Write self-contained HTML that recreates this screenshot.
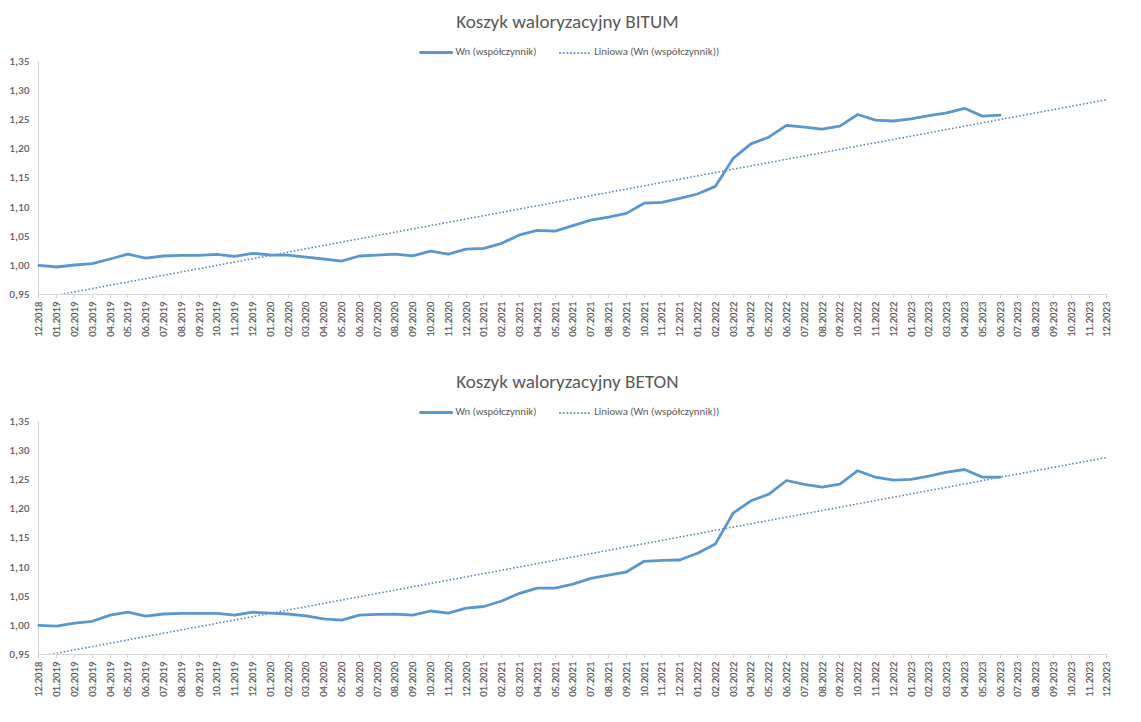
<!DOCTYPE html>
<html><head><meta charset="utf-8"><title>Koszyk waloryzacyjny</title>
<style>html,body{margin:0;padding:0;background:#fff;width:1141px;height:722px;overflow:hidden}svg{display:block}</style>
</head><body>
<svg width="1141" height="722" viewBox="0 0 1141 722" font-family="'Carlito', 'Liberation Sans', sans-serif">
<style>text{fill:#595959;font-size-adjust:0.4775}.t{font-size:19px}.lg{font-size:10.67px}.ya{font-size:10.67px;stroke:#595959;stroke-width:0.2px}.xa{font-size:10.67px;stroke:#595959;stroke-width:0.2px}</style>
<rect width="1141" height="722" fill="#fff"/>
<text x="567.4" y="27.7" class="t" text-anchor="middle" textLength="222.5" lengthAdjust="spacingAndGlyphs">Koszyk waloryzacyjny BITUM</text>
<line x1="420.5" y1="52.6" x2="451.7" y2="52.6" stroke="#5a97cf" stroke-width="3" stroke-linecap="round"/>
<text x="455.4" y="54.7" class="lg" textLength="81" lengthAdjust="spacingAndGlyphs" fill="#595959">Wn (współczynnik)</text>
<line x1="559.1" y1="53.0" x2="590" y2="53.0" stroke="#7fa3cf" stroke-width="2" stroke-dasharray="2 1.6"/>
<text x="594.2" y="54.7" class="lg" textLength="125" lengthAdjust="spacingAndGlyphs" fill="#595959">Liniowa (Wn (współczynnik))</text>
<text x="29.4" y="64.80" class="ya" text-anchor="end" textLength="20">1,35</text>
<text x="29.4" y="93.95" class="ya" text-anchor="end" textLength="20">1,30</text>
<text x="29.4" y="123.10" class="ya" text-anchor="end" textLength="20">1,25</text>
<text x="29.4" y="152.25" class="ya" text-anchor="end" textLength="20">1,20</text>
<text x="29.4" y="181.40" class="ya" text-anchor="end" textLength="20">1,15</text>
<text x="29.4" y="210.55" class="ya" text-anchor="end" textLength="20">1,10</text>
<text x="29.4" y="239.70" class="ya" text-anchor="end" textLength="20">1,05</text>
<text x="29.4" y="268.85" class="ya" text-anchor="end" textLength="20">1,00</text>
<text x="29.4" y="298.00" class="ya" text-anchor="end" textLength="20">0,95</text>
<line x1="38.5" y1="61.2" x2="38.5" y2="298.0" stroke="#d6d6d6" stroke-width="1"/>
<line x1="38" y1="294.5" x2="1107" y2="294.5" stroke="#d6d6d6" stroke-width="1"/>
<line x1="38.5" y1="294.5" x2="38.5" y2="298.0" stroke="#d6d6d6" stroke-width="1"/>
<text transform="translate(42.10,301.7) rotate(-90)" class="xa" text-anchor="end" textLength="35.1">12.2018</text>
<line x1="56.5" y1="294.5" x2="56.5" y2="298.0" stroke="#d6d6d6" stroke-width="1"/>
<text transform="translate(60.10,301.7) rotate(-90)" class="xa" text-anchor="end" textLength="35.1">01.2019</text>
<line x1="74.5" y1="294.5" x2="74.5" y2="298.0" stroke="#d6d6d6" stroke-width="1"/>
<text transform="translate(78.10,301.7) rotate(-90)" class="xa" text-anchor="end" textLength="35.1">02.2019</text>
<line x1="92.5" y1="294.5" x2="92.5" y2="298.0" stroke="#d6d6d6" stroke-width="1"/>
<text transform="translate(96.10,301.7) rotate(-90)" class="xa" text-anchor="end" textLength="35.1">03.2019</text>
<line x1="110.5" y1="294.5" x2="110.5" y2="298.0" stroke="#d6d6d6" stroke-width="1"/>
<text transform="translate(114.10,301.7) rotate(-90)" class="xa" text-anchor="end" textLength="35.1">04.2019</text>
<line x1="127.5" y1="294.5" x2="127.5" y2="298.0" stroke="#d6d6d6" stroke-width="1"/>
<text transform="translate(131.10,301.7) rotate(-90)" class="xa" text-anchor="end" textLength="35.1">05.2019</text>
<line x1="145.5" y1="294.5" x2="145.5" y2="298.0" stroke="#d6d6d6" stroke-width="1"/>
<text transform="translate(149.10,301.7) rotate(-90)" class="xa" text-anchor="end" textLength="35.1">06.2019</text>
<line x1="163.5" y1="294.5" x2="163.5" y2="298.0" stroke="#d6d6d6" stroke-width="1"/>
<text transform="translate(167.10,301.7) rotate(-90)" class="xa" text-anchor="end" textLength="35.1">07.2019</text>
<line x1="181.5" y1="294.5" x2="181.5" y2="298.0" stroke="#d6d6d6" stroke-width="1"/>
<text transform="translate(185.10,301.7) rotate(-90)" class="xa" text-anchor="end" textLength="35.1">08.2019</text>
<line x1="199.5" y1="294.5" x2="199.5" y2="298.0" stroke="#d6d6d6" stroke-width="1"/>
<text transform="translate(203.10,301.7) rotate(-90)" class="xa" text-anchor="end" textLength="35.1">09.2019</text>
<line x1="216.5" y1="294.5" x2="216.5" y2="298.0" stroke="#d6d6d6" stroke-width="1"/>
<text transform="translate(220.10,301.7) rotate(-90)" class="xa" text-anchor="end" textLength="35.1">10.2019</text>
<line x1="234.5" y1="294.5" x2="234.5" y2="298.0" stroke="#d6d6d6" stroke-width="1"/>
<text transform="translate(238.10,301.7) rotate(-90)" class="xa" text-anchor="end" textLength="35.1">11.2019</text>
<line x1="252.5" y1="294.5" x2="252.5" y2="298.0" stroke="#d6d6d6" stroke-width="1"/>
<text transform="translate(256.10,301.7) rotate(-90)" class="xa" text-anchor="end" textLength="35.1">12.2019</text>
<line x1="270.5" y1="294.5" x2="270.5" y2="298.0" stroke="#d6d6d6" stroke-width="1"/>
<text transform="translate(274.10,301.7) rotate(-90)" class="xa" text-anchor="end" textLength="35.1">01.2020</text>
<line x1="288.5" y1="294.5" x2="288.5" y2="298.0" stroke="#d6d6d6" stroke-width="1"/>
<text transform="translate(292.10,301.7) rotate(-90)" class="xa" text-anchor="end" textLength="35.1">02.2020</text>
<line x1="305.5" y1="294.5" x2="305.5" y2="298.0" stroke="#d6d6d6" stroke-width="1"/>
<text transform="translate(309.10,301.7) rotate(-90)" class="xa" text-anchor="end" textLength="35.1">03.2020</text>
<line x1="323.5" y1="294.5" x2="323.5" y2="298.0" stroke="#d6d6d6" stroke-width="1"/>
<text transform="translate(327.10,301.7) rotate(-90)" class="xa" text-anchor="end" textLength="35.1">04.2020</text>
<line x1="341.5" y1="294.5" x2="341.5" y2="298.0" stroke="#d6d6d6" stroke-width="1"/>
<text transform="translate(345.10,301.7) rotate(-90)" class="xa" text-anchor="end" textLength="35.1">05.2020</text>
<line x1="359.5" y1="294.5" x2="359.5" y2="298.0" stroke="#d6d6d6" stroke-width="1"/>
<text transform="translate(363.10,301.7) rotate(-90)" class="xa" text-anchor="end" textLength="35.1">06.2020</text>
<line x1="377.5" y1="294.5" x2="377.5" y2="298.0" stroke="#d6d6d6" stroke-width="1"/>
<text transform="translate(381.10,301.7) rotate(-90)" class="xa" text-anchor="end" textLength="35.1">07.2020</text>
<line x1="394.5" y1="294.5" x2="394.5" y2="298.0" stroke="#d6d6d6" stroke-width="1"/>
<text transform="translate(398.10,301.7) rotate(-90)" class="xa" text-anchor="end" textLength="35.1">08.2020</text>
<line x1="412.5" y1="294.5" x2="412.5" y2="298.0" stroke="#d6d6d6" stroke-width="1"/>
<text transform="translate(416.10,301.7) rotate(-90)" class="xa" text-anchor="end" textLength="35.1">09.2020</text>
<line x1="430.5" y1="294.5" x2="430.5" y2="298.0" stroke="#d6d6d6" stroke-width="1"/>
<text transform="translate(434.10,301.7) rotate(-90)" class="xa" text-anchor="end" textLength="35.1">10.2020</text>
<line x1="448.5" y1="294.5" x2="448.5" y2="298.0" stroke="#d6d6d6" stroke-width="1"/>
<text transform="translate(452.10,301.7) rotate(-90)" class="xa" text-anchor="end" textLength="35.1">11.2020</text>
<line x1="466.5" y1="294.5" x2="466.5" y2="298.0" stroke="#d6d6d6" stroke-width="1"/>
<text transform="translate(470.10,301.7) rotate(-90)" class="xa" text-anchor="end" textLength="35.1">12.2020</text>
<line x1="483.5" y1="294.5" x2="483.5" y2="298.0" stroke="#d6d6d6" stroke-width="1"/>
<text transform="translate(487.10,301.7) rotate(-90)" class="xa" text-anchor="end" textLength="35.1">01.2021</text>
<line x1="501.5" y1="294.5" x2="501.5" y2="298.0" stroke="#d6d6d6" stroke-width="1"/>
<text transform="translate(505.10,301.7) rotate(-90)" class="xa" text-anchor="end" textLength="35.1">02.2021</text>
<line x1="519.5" y1="294.5" x2="519.5" y2="298.0" stroke="#d6d6d6" stroke-width="1"/>
<text transform="translate(523.10,301.7) rotate(-90)" class="xa" text-anchor="end" textLength="35.1">03.2021</text>
<line x1="537.5" y1="294.5" x2="537.5" y2="298.0" stroke="#d6d6d6" stroke-width="1"/>
<text transform="translate(541.10,301.7) rotate(-90)" class="xa" text-anchor="end" textLength="35.1">04.2021</text>
<line x1="555.5" y1="294.5" x2="555.5" y2="298.0" stroke="#d6d6d6" stroke-width="1"/>
<text transform="translate(559.10,301.7) rotate(-90)" class="xa" text-anchor="end" textLength="35.1">05.2021</text>
<line x1="572.5" y1="294.5" x2="572.5" y2="298.0" stroke="#d6d6d6" stroke-width="1"/>
<text transform="translate(576.10,301.7) rotate(-90)" class="xa" text-anchor="end" textLength="35.1">06.2021</text>
<line x1="590.5" y1="294.5" x2="590.5" y2="298.0" stroke="#d6d6d6" stroke-width="1"/>
<text transform="translate(594.10,301.7) rotate(-90)" class="xa" text-anchor="end" textLength="35.1">07.2021</text>
<line x1="608.5" y1="294.5" x2="608.5" y2="298.0" stroke="#d6d6d6" stroke-width="1"/>
<text transform="translate(612.10,301.7) rotate(-90)" class="xa" text-anchor="end" textLength="35.1">08.2021</text>
<line x1="626.5" y1="294.5" x2="626.5" y2="298.0" stroke="#d6d6d6" stroke-width="1"/>
<text transform="translate(630.10,301.7) rotate(-90)" class="xa" text-anchor="end" textLength="35.1">09.2021</text>
<line x1="644.5" y1="294.5" x2="644.5" y2="298.0" stroke="#d6d6d6" stroke-width="1"/>
<text transform="translate(648.10,301.7) rotate(-90)" class="xa" text-anchor="end" textLength="35.1">10.2021</text>
<line x1="661.5" y1="294.5" x2="661.5" y2="298.0" stroke="#d6d6d6" stroke-width="1"/>
<text transform="translate(665.10,301.7) rotate(-90)" class="xa" text-anchor="end" textLength="35.1">11.2021</text>
<line x1="679.5" y1="294.5" x2="679.5" y2="298.0" stroke="#d6d6d6" stroke-width="1"/>
<text transform="translate(683.10,301.7) rotate(-90)" class="xa" text-anchor="end" textLength="35.1">12.2021</text>
<line x1="697.5" y1="294.5" x2="697.5" y2="298.0" stroke="#d6d6d6" stroke-width="1"/>
<text transform="translate(701.10,301.7) rotate(-90)" class="xa" text-anchor="end" textLength="35.1">01.2022</text>
<line x1="715.5" y1="294.5" x2="715.5" y2="298.0" stroke="#d6d6d6" stroke-width="1"/>
<text transform="translate(719.10,301.7) rotate(-90)" class="xa" text-anchor="end" textLength="35.1">02.2022</text>
<line x1="733.5" y1="294.5" x2="733.5" y2="298.0" stroke="#d6d6d6" stroke-width="1"/>
<text transform="translate(737.10,301.7) rotate(-90)" class="xa" text-anchor="end" textLength="35.1">03.2022</text>
<line x1="750.5" y1="294.5" x2="750.5" y2="298.0" stroke="#d6d6d6" stroke-width="1"/>
<text transform="translate(754.10,301.7) rotate(-90)" class="xa" text-anchor="end" textLength="35.1">04.2022</text>
<line x1="768.5" y1="294.5" x2="768.5" y2="298.0" stroke="#d6d6d6" stroke-width="1"/>
<text transform="translate(772.10,301.7) rotate(-90)" class="xa" text-anchor="end" textLength="35.1">05.2022</text>
<line x1="786.5" y1="294.5" x2="786.5" y2="298.0" stroke="#d6d6d6" stroke-width="1"/>
<text transform="translate(790.10,301.7) rotate(-90)" class="xa" text-anchor="end" textLength="35.1">06.2022</text>
<line x1="804.5" y1="294.5" x2="804.5" y2="298.0" stroke="#d6d6d6" stroke-width="1"/>
<text transform="translate(808.10,301.7) rotate(-90)" class="xa" text-anchor="end" textLength="35.1">07.2022</text>
<line x1="822.5" y1="294.5" x2="822.5" y2="298.0" stroke="#d6d6d6" stroke-width="1"/>
<text transform="translate(826.10,301.7) rotate(-90)" class="xa" text-anchor="end" textLength="35.1">08.2022</text>
<line x1="839.5" y1="294.5" x2="839.5" y2="298.0" stroke="#d6d6d6" stroke-width="1"/>
<text transform="translate(843.10,301.7) rotate(-90)" class="xa" text-anchor="end" textLength="35.1">09.2022</text>
<line x1="857.5" y1="294.5" x2="857.5" y2="298.0" stroke="#d6d6d6" stroke-width="1"/>
<text transform="translate(861.10,301.7) rotate(-90)" class="xa" text-anchor="end" textLength="35.1">10.2022</text>
<line x1="875.5" y1="294.5" x2="875.5" y2="298.0" stroke="#d6d6d6" stroke-width="1"/>
<text transform="translate(879.10,301.7) rotate(-90)" class="xa" text-anchor="end" textLength="35.1">11.2022</text>
<line x1="893.5" y1="294.5" x2="893.5" y2="298.0" stroke="#d6d6d6" stroke-width="1"/>
<text transform="translate(897.10,301.7) rotate(-90)" class="xa" text-anchor="end" textLength="35.1">12.2022</text>
<line x1="911.5" y1="294.5" x2="911.5" y2="298.0" stroke="#d6d6d6" stroke-width="1"/>
<text transform="translate(915.10,301.7) rotate(-90)" class="xa" text-anchor="end" textLength="35.1">01.2023</text>
<line x1="928.5" y1="294.5" x2="928.5" y2="298.0" stroke="#d6d6d6" stroke-width="1"/>
<text transform="translate(932.10,301.7) rotate(-90)" class="xa" text-anchor="end" textLength="35.1">02.2023</text>
<line x1="946.5" y1="294.5" x2="946.5" y2="298.0" stroke="#d6d6d6" stroke-width="1"/>
<text transform="translate(950.10,301.7) rotate(-90)" class="xa" text-anchor="end" textLength="35.1">03.2023</text>
<line x1="964.5" y1="294.5" x2="964.5" y2="298.0" stroke="#d6d6d6" stroke-width="1"/>
<text transform="translate(968.10,301.7) rotate(-90)" class="xa" text-anchor="end" textLength="35.1">04.2023</text>
<line x1="982.5" y1="294.5" x2="982.5" y2="298.0" stroke="#d6d6d6" stroke-width="1"/>
<text transform="translate(986.10,301.7) rotate(-90)" class="xa" text-anchor="end" textLength="35.1">05.2023</text>
<line x1="1000.5" y1="294.5" x2="1000.5" y2="298.0" stroke="#d6d6d6" stroke-width="1"/>
<text transform="translate(1004.10,301.7) rotate(-90)" class="xa" text-anchor="end" textLength="35.1">06.2023</text>
<line x1="1017.5" y1="294.5" x2="1017.5" y2="298.0" stroke="#d6d6d6" stroke-width="1"/>
<text transform="translate(1021.10,301.7) rotate(-90)" class="xa" text-anchor="end" textLength="35.1">07.2023</text>
<line x1="1035.5" y1="294.5" x2="1035.5" y2="298.0" stroke="#d6d6d6" stroke-width="1"/>
<text transform="translate(1039.10,301.7) rotate(-90)" class="xa" text-anchor="end" textLength="35.1">08.2023</text>
<line x1="1053.5" y1="294.5" x2="1053.5" y2="298.0" stroke="#d6d6d6" stroke-width="1"/>
<text transform="translate(1057.10,301.7) rotate(-90)" class="xa" text-anchor="end" textLength="35.1">09.2023</text>
<line x1="1071.5" y1="294.5" x2="1071.5" y2="298.0" stroke="#d6d6d6" stroke-width="1"/>
<text transform="translate(1075.10,301.7) rotate(-90)" class="xa" text-anchor="end" textLength="35.1">10.2023</text>
<line x1="1089.5" y1="294.5" x2="1089.5" y2="298.0" stroke="#d6d6d6" stroke-width="1"/>
<text transform="translate(1093.10,301.7) rotate(-90)" class="xa" text-anchor="end" textLength="35.1">11.2023</text>
<line x1="1106.5" y1="294.5" x2="1106.5" y2="298.0" stroke="#d6d6d6" stroke-width="1"/>
<text transform="translate(1110.10,301.7) rotate(-90)" class="xa" text-anchor="end" textLength="35.1">12.2023</text>
<clipPath id="c0"><rect x="39" y="60.2" width="1070" height="233.60000000000002"/></clipPath>
<line clip-path="url(#c0)" x1="38.9" y1="298.50" x2="1106.90" y2="99.64" stroke="#5a86ba" stroke-width="1.55" stroke-dasharray="1.6 2.0"/>
<polyline points="38.90,265.4 56.70,267.0 74.50,265.0 92.30,263.6 110.10,259.0 127.90,254.2 145.70,258.2 163.50,256.0 181.30,255.3 199.10,255.3 216.90,254.4 234.70,256.3 252.50,253.3 270.30,255.0 288.10,255.1 305.90,257.2 323.70,259.0 341.50,261.1 359.30,256.0 377.10,255.1 394.90,254.2 412.70,255.9 430.50,251.1 448.30,254.1 466.10,249.2 483.90,248.3 501.70,243.3 519.50,234.9 537.30,230.3 555.10,231.2 572.90,225.7 590.70,220.2 608.50,217.1 626.30,213.4 644.10,203.2 661.90,202.3 679.70,198.3 697.50,194.0 715.30,186.4 733.10,158.4 750.90,143.9 768.70,137.2 786.50,125.4 804.30,127.2 822.10,129.1 839.90,126.1 857.70,114.5 875.50,120.2 893.30,121.0 911.10,118.9 928.90,115.6 946.70,112.8 964.50,108.3 982.30,116.1 1000.10,115.2" fill="none" stroke="#5a97cf" stroke-width="2.8" stroke-linejoin="round" stroke-linecap="round"/>
<text x="567.4" y="387.7" class="t" text-anchor="middle" textLength="222.5" lengthAdjust="spacingAndGlyphs">Koszyk waloryzacyjny BETON</text>
<line x1="420.5" y1="412.6" x2="451.7" y2="412.6" stroke="#5a97cf" stroke-width="3" stroke-linecap="round"/>
<text x="455.4" y="414.7" class="lg" textLength="81" lengthAdjust="spacingAndGlyphs" fill="#595959">Wn (współczynnik)</text>
<line x1="559.1" y1="413.0" x2="590" y2="413.0" stroke="#7fa3cf" stroke-width="2" stroke-dasharray="2 1.6"/>
<text x="594.2" y="414.7" class="lg" textLength="125" lengthAdjust="spacingAndGlyphs" fill="#595959">Liniowa (Wn (współczynnik))</text>
<text x="29.4" y="424.80" class="ya" text-anchor="end" textLength="20">1,35</text>
<text x="29.4" y="453.95" class="ya" text-anchor="end" textLength="20">1,30</text>
<text x="29.4" y="483.10" class="ya" text-anchor="end" textLength="20">1,25</text>
<text x="29.4" y="512.25" class="ya" text-anchor="end" textLength="20">1,20</text>
<text x="29.4" y="541.40" class="ya" text-anchor="end" textLength="20">1,15</text>
<text x="29.4" y="570.55" class="ya" text-anchor="end" textLength="20">1,10</text>
<text x="29.4" y="599.70" class="ya" text-anchor="end" textLength="20">1,05</text>
<text x="29.4" y="628.85" class="ya" text-anchor="end" textLength="20">1,00</text>
<text x="29.4" y="658.00" class="ya" text-anchor="end" textLength="20">0,95</text>
<line x1="38.5" y1="421.2" x2="38.5" y2="658.0" stroke="#d6d6d6" stroke-width="1"/>
<line x1="38" y1="654.5" x2="1107" y2="654.5" stroke="#d6d6d6" stroke-width="1"/>
<line x1="38.5" y1="654.5" x2="38.5" y2="658.0" stroke="#d6d6d6" stroke-width="1"/>
<text transform="translate(42.10,661.7) rotate(-90)" class="xa" text-anchor="end" textLength="35.1">12.2018</text>
<line x1="56.5" y1="654.5" x2="56.5" y2="658.0" stroke="#d6d6d6" stroke-width="1"/>
<text transform="translate(60.10,661.7) rotate(-90)" class="xa" text-anchor="end" textLength="35.1">01.2019</text>
<line x1="74.5" y1="654.5" x2="74.5" y2="658.0" stroke="#d6d6d6" stroke-width="1"/>
<text transform="translate(78.10,661.7) rotate(-90)" class="xa" text-anchor="end" textLength="35.1">02.2019</text>
<line x1="92.5" y1="654.5" x2="92.5" y2="658.0" stroke="#d6d6d6" stroke-width="1"/>
<text transform="translate(96.10,661.7) rotate(-90)" class="xa" text-anchor="end" textLength="35.1">03.2019</text>
<line x1="110.5" y1="654.5" x2="110.5" y2="658.0" stroke="#d6d6d6" stroke-width="1"/>
<text transform="translate(114.10,661.7) rotate(-90)" class="xa" text-anchor="end" textLength="35.1">04.2019</text>
<line x1="127.5" y1="654.5" x2="127.5" y2="658.0" stroke="#d6d6d6" stroke-width="1"/>
<text transform="translate(131.10,661.7) rotate(-90)" class="xa" text-anchor="end" textLength="35.1">05.2019</text>
<line x1="145.5" y1="654.5" x2="145.5" y2="658.0" stroke="#d6d6d6" stroke-width="1"/>
<text transform="translate(149.10,661.7) rotate(-90)" class="xa" text-anchor="end" textLength="35.1">06.2019</text>
<line x1="163.5" y1="654.5" x2="163.5" y2="658.0" stroke="#d6d6d6" stroke-width="1"/>
<text transform="translate(167.10,661.7) rotate(-90)" class="xa" text-anchor="end" textLength="35.1">07.2019</text>
<line x1="181.5" y1="654.5" x2="181.5" y2="658.0" stroke="#d6d6d6" stroke-width="1"/>
<text transform="translate(185.10,661.7) rotate(-90)" class="xa" text-anchor="end" textLength="35.1">08.2019</text>
<line x1="199.5" y1="654.5" x2="199.5" y2="658.0" stroke="#d6d6d6" stroke-width="1"/>
<text transform="translate(203.10,661.7) rotate(-90)" class="xa" text-anchor="end" textLength="35.1">09.2019</text>
<line x1="216.5" y1="654.5" x2="216.5" y2="658.0" stroke="#d6d6d6" stroke-width="1"/>
<text transform="translate(220.10,661.7) rotate(-90)" class="xa" text-anchor="end" textLength="35.1">10.2019</text>
<line x1="234.5" y1="654.5" x2="234.5" y2="658.0" stroke="#d6d6d6" stroke-width="1"/>
<text transform="translate(238.10,661.7) rotate(-90)" class="xa" text-anchor="end" textLength="35.1">11.2019</text>
<line x1="252.5" y1="654.5" x2="252.5" y2="658.0" stroke="#d6d6d6" stroke-width="1"/>
<text transform="translate(256.10,661.7) rotate(-90)" class="xa" text-anchor="end" textLength="35.1">12.2019</text>
<line x1="270.5" y1="654.5" x2="270.5" y2="658.0" stroke="#d6d6d6" stroke-width="1"/>
<text transform="translate(274.10,661.7) rotate(-90)" class="xa" text-anchor="end" textLength="35.1">01.2020</text>
<line x1="288.5" y1="654.5" x2="288.5" y2="658.0" stroke="#d6d6d6" stroke-width="1"/>
<text transform="translate(292.10,661.7) rotate(-90)" class="xa" text-anchor="end" textLength="35.1">02.2020</text>
<line x1="305.5" y1="654.5" x2="305.5" y2="658.0" stroke="#d6d6d6" stroke-width="1"/>
<text transform="translate(309.10,661.7) rotate(-90)" class="xa" text-anchor="end" textLength="35.1">03.2020</text>
<line x1="323.5" y1="654.5" x2="323.5" y2="658.0" stroke="#d6d6d6" stroke-width="1"/>
<text transform="translate(327.10,661.7) rotate(-90)" class="xa" text-anchor="end" textLength="35.1">04.2020</text>
<line x1="341.5" y1="654.5" x2="341.5" y2="658.0" stroke="#d6d6d6" stroke-width="1"/>
<text transform="translate(345.10,661.7) rotate(-90)" class="xa" text-anchor="end" textLength="35.1">05.2020</text>
<line x1="359.5" y1="654.5" x2="359.5" y2="658.0" stroke="#d6d6d6" stroke-width="1"/>
<text transform="translate(363.10,661.7) rotate(-90)" class="xa" text-anchor="end" textLength="35.1">06.2020</text>
<line x1="377.5" y1="654.5" x2="377.5" y2="658.0" stroke="#d6d6d6" stroke-width="1"/>
<text transform="translate(381.10,661.7) rotate(-90)" class="xa" text-anchor="end" textLength="35.1">07.2020</text>
<line x1="394.5" y1="654.5" x2="394.5" y2="658.0" stroke="#d6d6d6" stroke-width="1"/>
<text transform="translate(398.10,661.7) rotate(-90)" class="xa" text-anchor="end" textLength="35.1">08.2020</text>
<line x1="412.5" y1="654.5" x2="412.5" y2="658.0" stroke="#d6d6d6" stroke-width="1"/>
<text transform="translate(416.10,661.7) rotate(-90)" class="xa" text-anchor="end" textLength="35.1">09.2020</text>
<line x1="430.5" y1="654.5" x2="430.5" y2="658.0" stroke="#d6d6d6" stroke-width="1"/>
<text transform="translate(434.10,661.7) rotate(-90)" class="xa" text-anchor="end" textLength="35.1">10.2020</text>
<line x1="448.5" y1="654.5" x2="448.5" y2="658.0" stroke="#d6d6d6" stroke-width="1"/>
<text transform="translate(452.10,661.7) rotate(-90)" class="xa" text-anchor="end" textLength="35.1">11.2020</text>
<line x1="466.5" y1="654.5" x2="466.5" y2="658.0" stroke="#d6d6d6" stroke-width="1"/>
<text transform="translate(470.10,661.7) rotate(-90)" class="xa" text-anchor="end" textLength="35.1">12.2020</text>
<line x1="483.5" y1="654.5" x2="483.5" y2="658.0" stroke="#d6d6d6" stroke-width="1"/>
<text transform="translate(487.10,661.7) rotate(-90)" class="xa" text-anchor="end" textLength="35.1">01.2021</text>
<line x1="501.5" y1="654.5" x2="501.5" y2="658.0" stroke="#d6d6d6" stroke-width="1"/>
<text transform="translate(505.10,661.7) rotate(-90)" class="xa" text-anchor="end" textLength="35.1">02.2021</text>
<line x1="519.5" y1="654.5" x2="519.5" y2="658.0" stroke="#d6d6d6" stroke-width="1"/>
<text transform="translate(523.10,661.7) rotate(-90)" class="xa" text-anchor="end" textLength="35.1">03.2021</text>
<line x1="537.5" y1="654.5" x2="537.5" y2="658.0" stroke="#d6d6d6" stroke-width="1"/>
<text transform="translate(541.10,661.7) rotate(-90)" class="xa" text-anchor="end" textLength="35.1">04.2021</text>
<line x1="555.5" y1="654.5" x2="555.5" y2="658.0" stroke="#d6d6d6" stroke-width="1"/>
<text transform="translate(559.10,661.7) rotate(-90)" class="xa" text-anchor="end" textLength="35.1">05.2021</text>
<line x1="572.5" y1="654.5" x2="572.5" y2="658.0" stroke="#d6d6d6" stroke-width="1"/>
<text transform="translate(576.10,661.7) rotate(-90)" class="xa" text-anchor="end" textLength="35.1">06.2021</text>
<line x1="590.5" y1="654.5" x2="590.5" y2="658.0" stroke="#d6d6d6" stroke-width="1"/>
<text transform="translate(594.10,661.7) rotate(-90)" class="xa" text-anchor="end" textLength="35.1">07.2021</text>
<line x1="608.5" y1="654.5" x2="608.5" y2="658.0" stroke="#d6d6d6" stroke-width="1"/>
<text transform="translate(612.10,661.7) rotate(-90)" class="xa" text-anchor="end" textLength="35.1">08.2021</text>
<line x1="626.5" y1="654.5" x2="626.5" y2="658.0" stroke="#d6d6d6" stroke-width="1"/>
<text transform="translate(630.10,661.7) rotate(-90)" class="xa" text-anchor="end" textLength="35.1">09.2021</text>
<line x1="644.5" y1="654.5" x2="644.5" y2="658.0" stroke="#d6d6d6" stroke-width="1"/>
<text transform="translate(648.10,661.7) rotate(-90)" class="xa" text-anchor="end" textLength="35.1">10.2021</text>
<line x1="661.5" y1="654.5" x2="661.5" y2="658.0" stroke="#d6d6d6" stroke-width="1"/>
<text transform="translate(665.10,661.7) rotate(-90)" class="xa" text-anchor="end" textLength="35.1">11.2021</text>
<line x1="679.5" y1="654.5" x2="679.5" y2="658.0" stroke="#d6d6d6" stroke-width="1"/>
<text transform="translate(683.10,661.7) rotate(-90)" class="xa" text-anchor="end" textLength="35.1">12.2021</text>
<line x1="697.5" y1="654.5" x2="697.5" y2="658.0" stroke="#d6d6d6" stroke-width="1"/>
<text transform="translate(701.10,661.7) rotate(-90)" class="xa" text-anchor="end" textLength="35.1">01.2022</text>
<line x1="715.5" y1="654.5" x2="715.5" y2="658.0" stroke="#d6d6d6" stroke-width="1"/>
<text transform="translate(719.10,661.7) rotate(-90)" class="xa" text-anchor="end" textLength="35.1">02.2022</text>
<line x1="733.5" y1="654.5" x2="733.5" y2="658.0" stroke="#d6d6d6" stroke-width="1"/>
<text transform="translate(737.10,661.7) rotate(-90)" class="xa" text-anchor="end" textLength="35.1">03.2022</text>
<line x1="750.5" y1="654.5" x2="750.5" y2="658.0" stroke="#d6d6d6" stroke-width="1"/>
<text transform="translate(754.10,661.7) rotate(-90)" class="xa" text-anchor="end" textLength="35.1">04.2022</text>
<line x1="768.5" y1="654.5" x2="768.5" y2="658.0" stroke="#d6d6d6" stroke-width="1"/>
<text transform="translate(772.10,661.7) rotate(-90)" class="xa" text-anchor="end" textLength="35.1">05.2022</text>
<line x1="786.5" y1="654.5" x2="786.5" y2="658.0" stroke="#d6d6d6" stroke-width="1"/>
<text transform="translate(790.10,661.7) rotate(-90)" class="xa" text-anchor="end" textLength="35.1">06.2022</text>
<line x1="804.5" y1="654.5" x2="804.5" y2="658.0" stroke="#d6d6d6" stroke-width="1"/>
<text transform="translate(808.10,661.7) rotate(-90)" class="xa" text-anchor="end" textLength="35.1">07.2022</text>
<line x1="822.5" y1="654.5" x2="822.5" y2="658.0" stroke="#d6d6d6" stroke-width="1"/>
<text transform="translate(826.10,661.7) rotate(-90)" class="xa" text-anchor="end" textLength="35.1">08.2022</text>
<line x1="839.5" y1="654.5" x2="839.5" y2="658.0" stroke="#d6d6d6" stroke-width="1"/>
<text transform="translate(843.10,661.7) rotate(-90)" class="xa" text-anchor="end" textLength="35.1">09.2022</text>
<line x1="857.5" y1="654.5" x2="857.5" y2="658.0" stroke="#d6d6d6" stroke-width="1"/>
<text transform="translate(861.10,661.7) rotate(-90)" class="xa" text-anchor="end" textLength="35.1">10.2022</text>
<line x1="875.5" y1="654.5" x2="875.5" y2="658.0" stroke="#d6d6d6" stroke-width="1"/>
<text transform="translate(879.10,661.7) rotate(-90)" class="xa" text-anchor="end" textLength="35.1">11.2022</text>
<line x1="893.5" y1="654.5" x2="893.5" y2="658.0" stroke="#d6d6d6" stroke-width="1"/>
<text transform="translate(897.10,661.7) rotate(-90)" class="xa" text-anchor="end" textLength="35.1">12.2022</text>
<line x1="911.5" y1="654.5" x2="911.5" y2="658.0" stroke="#d6d6d6" stroke-width="1"/>
<text transform="translate(915.10,661.7) rotate(-90)" class="xa" text-anchor="end" textLength="35.1">01.2023</text>
<line x1="928.5" y1="654.5" x2="928.5" y2="658.0" stroke="#d6d6d6" stroke-width="1"/>
<text transform="translate(932.10,661.7) rotate(-90)" class="xa" text-anchor="end" textLength="35.1">02.2023</text>
<line x1="946.5" y1="654.5" x2="946.5" y2="658.0" stroke="#d6d6d6" stroke-width="1"/>
<text transform="translate(950.10,661.7) rotate(-90)" class="xa" text-anchor="end" textLength="35.1">03.2023</text>
<line x1="964.5" y1="654.5" x2="964.5" y2="658.0" stroke="#d6d6d6" stroke-width="1"/>
<text transform="translate(968.10,661.7) rotate(-90)" class="xa" text-anchor="end" textLength="35.1">04.2023</text>
<line x1="982.5" y1="654.5" x2="982.5" y2="658.0" stroke="#d6d6d6" stroke-width="1"/>
<text transform="translate(986.10,661.7) rotate(-90)" class="xa" text-anchor="end" textLength="35.1">05.2023</text>
<line x1="1000.5" y1="654.5" x2="1000.5" y2="658.0" stroke="#d6d6d6" stroke-width="1"/>
<text transform="translate(1004.10,661.7) rotate(-90)" class="xa" text-anchor="end" textLength="35.1">06.2023</text>
<line x1="1017.5" y1="654.5" x2="1017.5" y2="658.0" stroke="#d6d6d6" stroke-width="1"/>
<text transform="translate(1021.10,661.7) rotate(-90)" class="xa" text-anchor="end" textLength="35.1">07.2023</text>
<line x1="1035.5" y1="654.5" x2="1035.5" y2="658.0" stroke="#d6d6d6" stroke-width="1"/>
<text transform="translate(1039.10,661.7) rotate(-90)" class="xa" text-anchor="end" textLength="35.1">08.2023</text>
<line x1="1053.5" y1="654.5" x2="1053.5" y2="658.0" stroke="#d6d6d6" stroke-width="1"/>
<text transform="translate(1057.10,661.7) rotate(-90)" class="xa" text-anchor="end" textLength="35.1">09.2023</text>
<line x1="1071.5" y1="654.5" x2="1071.5" y2="658.0" stroke="#d6d6d6" stroke-width="1"/>
<text transform="translate(1075.10,661.7) rotate(-90)" class="xa" text-anchor="end" textLength="35.1">10.2023</text>
<line x1="1089.5" y1="654.5" x2="1089.5" y2="658.0" stroke="#d6d6d6" stroke-width="1"/>
<text transform="translate(1093.10,661.7) rotate(-90)" class="xa" text-anchor="end" textLength="35.1">11.2023</text>
<line x1="1106.5" y1="654.5" x2="1106.5" y2="658.0" stroke="#d6d6d6" stroke-width="1"/>
<text transform="translate(1110.10,661.7) rotate(-90)" class="xa" text-anchor="end" textLength="35.1">12.2023</text>
<clipPath id="c360"><rect x="39" y="420.2" width="1070" height="233.60000000000002"/></clipPath>
<line clip-path="url(#c360)" x1="38.9" y1="656.49" x2="1106.90" y2="457.42" stroke="#5a86ba" stroke-width="1.55" stroke-dasharray="1.6 2.0"/>
<polyline points="38.90,625.4 56.70,626.1 74.50,623.2 92.30,621.3 110.10,615.1 127.90,612.2 145.70,616.1 163.50,614.0 181.30,613.4 199.10,613.4 216.90,613.4 234.70,615.2 252.50,612.2 270.30,613.2 288.10,614.0 305.90,615.9 323.70,618.9 341.50,620.2 359.30,615.2 377.10,614.4 394.90,614.2 412.70,615.1 430.50,611.0 448.30,613.2 466.10,608.1 483.90,606.5 501.70,601.0 519.50,593.3 537.30,588.1 555.10,588.1 572.90,584.2 590.70,578.3 608.50,575.2 626.30,572.0 644.10,561.3 661.90,560.4 679.70,560.0 697.50,553.3 715.30,544.1 733.10,513.2 750.90,500.8 768.70,494.3 786.50,480.5 804.30,484.4 822.10,487.1 839.90,484.2 857.70,470.7 875.50,477.2 893.30,480.2 911.10,479.3 928.90,476.1 946.70,472.2 964.50,469.5 982.30,477.1 1000.10,477.1" fill="none" stroke="#5a97cf" stroke-width="2.8" stroke-linejoin="round" stroke-linecap="round"/>
</svg>
</body></html>
